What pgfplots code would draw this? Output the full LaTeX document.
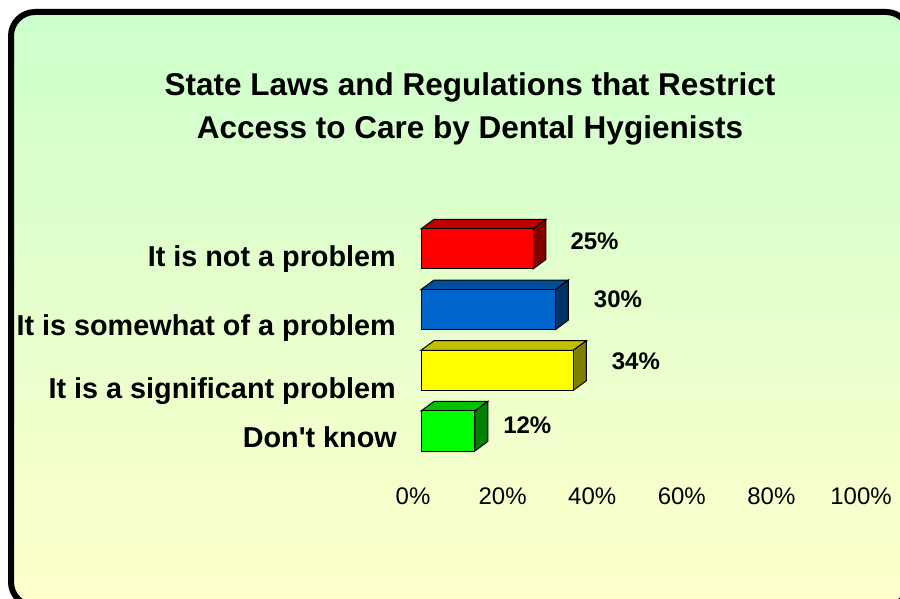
\documentclass[border=0pt]{standalone}
\usepackage{pgfplots}
\pgfplotsset{compat=1.18}
\usepackage{fontspec}
\setmainfont{Liberation Sans}[Ligatures=TeXOff]
\definecolor{bggreen}{RGB}{204,255,204}
\definecolor{bgyellow}{RGB}{255,255,204}
\definecolor{redF}{RGB}{255,0,0}\definecolor{redT}{RGB}{192,0,0}\definecolor{redS}{RGB}{128,0,0}
\definecolor{bluF}{RGB}{0,102,204}\definecolor{bluT}{RGB}{0,77,153}\definecolor{bluS}{RGB}{0,51,102}
\definecolor{yelF}{RGB}{255,255,0}\definecolor{yelT}{RGB}{192,192,0}\definecolor{yelS}{RGB}{128,128,0}
\definecolor{grnF}{RGB}{0,255,0}\definecolor{grnT}{RGB}{0,192,0}\definecolor{grnS}{RGB}{0,128,0}
\begin{document}
\begin{tikzpicture}
\useasboundingbox (0pt,0pt) rectangle (900pt,598pt);
\begin{scope}
\clip (0pt,0pt) rectangle (900pt,598pt);
\draw[line width=6pt, rounded corners=24pt, top color=bggreen, bottom color=bgyellow] (11pt,586pt) rectangle (910pt,-8pt);
\end{scope}
\node[anchor=base, font=\fontsize{31.5}{36}\selectfont\bfseries] at (470pt,502pt) {State Laws and Regulations that Restrict};
\node[anchor=base, font=\fontsize{31.5}{36}\selectfont\bfseries] at (470pt,459pt) {Access to Care by Dental Hygienists};
\begin{axis}[anchor=origin, at={(421pt,167pt)}, x=4.48pt, y=60.7pt,
  xmin=0, xmax=100, ymin=-0.7, ymax=3.7,
  axis line style={draw=none}, major tick length=0pt, ytick=\empty,
  xtick={0,20,40,60,80,100}, xticklabels={0\%,20\%,40\%,60\%,80\%,100\%},
  xticklabel style={anchor=base, yshift=-31.5pt, xshift=-8pt, font=\fontsize{24}{28}\selectfont},
  clip=false]
\addplot[draw=black, line width=1pt, fill=redT, mark=none] coordinates {(0,3.33) (25,3.33) (27.9,3.487) (2.9,3.487)} --cycle;
\addplot[draw=black, line width=1pt, fill=redS, mark=none] coordinates {(25,2.67) (25,3.33) (27.9,3.487) (27.9,2.827)} --cycle;
\addplot[xbar, bar shift=0pt, bar width=0.66, draw=black, line width=1pt, fill=redF] coordinates {(25,3)};
\addplot[draw=black, line width=1pt, fill=bluT, mark=none] coordinates {(0,2.33) (30,2.33) (32.9,2.487) (2.9,2.487)} --cycle;
\addplot[draw=black, line width=1pt, fill=bluS, mark=none] coordinates {(30,1.67) (30,2.33) (32.9,2.487) (32.9,1.827)} --cycle;
\addplot[xbar, bar shift=0pt, bar width=0.66, draw=black, line width=1pt, fill=bluF] coordinates {(30,2)};
\addplot[draw=black, line width=1pt, fill=yelT, mark=none] coordinates {(0,1.33) (34,1.33) (36.9,1.487) (2.9,1.487)} --cycle;
\addplot[draw=black, line width=1pt, fill=yelS, mark=none] coordinates {(34,0.67) (34,1.33) (36.9,1.487) (36.9,0.827)} --cycle;
\addplot[xbar, bar shift=0pt, bar width=0.66, draw=black, line width=1pt, fill=yelF] coordinates {(34,1)};
\addplot[draw=black, line width=1pt, fill=grnT, mark=none] coordinates {(0,0.33) (12,0.33) (14.9,0.487) (2.9,0.487)} --cycle;
\addplot[draw=black, line width=1pt, fill=grnS, mark=none] coordinates {(12,-0.33) (12,0.33) (14.9,0.487) (14.9,-0.173)} --cycle;
\addplot[xbar, bar shift=0pt, bar width=0.66, draw=black, line width=1pt, fill=grnF] coordinates {(12,0)};
\node[anchor=base west, xshift=34pt, yshift=-1pt, font=\fontsize{24}{28}\selectfont\bfseries] at (axis cs:25,3) {25\%};
\node[anchor=base west, xshift=35pt, yshift=2pt, font=\fontsize{24}{28}\selectfont\bfseries] at (axis cs:30,2) {30\%};
\node[anchor=base west, xshift=35pt, yshift=1pt, font=\fontsize{24}{28}\selectfont\bfseries] at (axis cs:34,1) {34\%};
\node[anchor=base west, xshift=25pt, yshift=-2pt, font=\fontsize{24}{28}\selectfont\bfseries] at (axis cs:12,0) {12\%};
\end{axis}
\begin{scope}[every node/.style={anchor=base east, inner sep=0pt, font=\fontsize{28.8}{34}\selectfont\bfseries}]
\node at (396pt,331pt) {It is not a problem};
\node at (396pt,262pt) {It is somewhat of a problem};
\node at (396pt,200pt) {It is a significant problem};
\node at (397pt,151pt) {Don't know};
\end{scope}
\end{tikzpicture}
\end{document}
